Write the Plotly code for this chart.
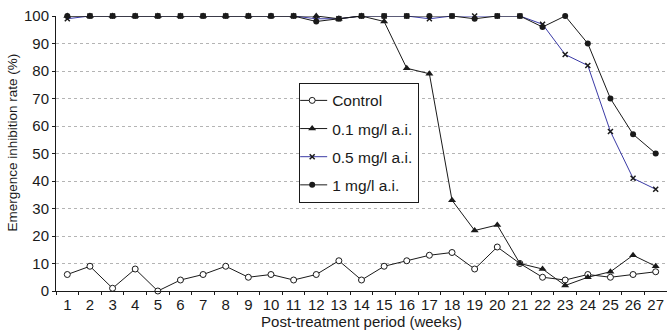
import plotly.graph_objects as go

weeks = [str(i) for i in range(1, 28)]
control = [6, 9, 1, 8, 0, 4, 6, 9, 5, 6, 4, 6, 11, 4, 9, 11, 13, 14, 8, 16, 10, 5, 4, 6, 5, 6, 7]
dose_01 = [100, 100, 100, 100, 100, 100, 100, 100, 100, 100, 100, 100, 99, 100, 98, 81, 79, 33, 22, 24, 10, 8, 2, 5, 7, 13, 9]
dose_05 = [99, 100, 100, 100, 100, 100, 100, 100, 100, 100, 100, 99, 99, 100, 100, 100, 99, 100, 100, 100, 100, 97, 86, 82, 58, 41, 37]
dose_1 = [100, 100, 100, 100, 100, 100, 100, 100, 100, 100, 100, 98, 99, 100, 100, 100, 100, 100, 99, 100, 100, 96, 100, 90, 70, 57, 50]

FONT = "Liberation Sans, Arial, Helvetica, sans-serif"
BLACK = "#1a1a1a"
BLUE = "#3a3aa6"

fig = go.Figure()
fig.add_trace(go.Scatter(
    x=weeks, y=control, name="Control", mode="lines+markers",
    line=dict(color=BLACK, width=1),
    marker=dict(symbol="circle", size=6, color="white", line=dict(color=BLACK, width=1)),
    cliponaxis=False, legendgroup="a", legendrank=1))
fig.add_trace(go.Scatter(
    x=weeks, y=dose_05, name="0.5 mg/l a.i.", mode="lines+markers",
    line=dict(color=BLUE, width=1),
    marker=dict(symbol="x-thin", size=5, color=BLACK, line=dict(color=BLACK, width=1.5)),
    cliponaxis=False, legendgroup="c", legendrank=3))
fig.add_trace(go.Scatter(
    x=weeks, y=dose_01, name="0.1 mg/l a.i.", mode="lines+markers",
    line=dict(color=BLACK, width=1),
    marker=dict(symbol="triangle-up", size=7, color=BLACK),
    cliponaxis=False, legendgroup="b", legendrank=2))
fig.add_trace(go.Scatter(
    x=weeks, y=dose_1, name="1 mg/l a.i.", mode="lines+markers",
    line=dict(color=BLACK, width=1),
    marker=dict(symbol="circle", size=6, color=BLACK),
    cliponaxis=False, legendgroup="d", legendrank=4))

fig.update_layout(
    width=667, height=330,
    margin=dict(l=56, r=0, t=16, b=39),
    paper_bgcolor="white", plot_bgcolor="white",
    font=dict(family=FONT, size=15, color=BLACK),
    legend=dict(
        x=0.398, y=0.757, xanchor="left", yanchor="top",
        bordercolor=BLACK, borderwidth=1, bgcolor="white",
        font=dict(size=15.5, family=FONT, color=BLACK),
        itemwidth=30, tracegroupgap=5, traceorder="grouped", indentation=-8,
    ),
    xaxis=dict(
        type="category", range=[-0.5, len(weeks) - 0.5],
        tickson="boundaries", ticks="outside", ticklen=3,
        tickcolor=BLACK, showline=True, linecolor=BLACK, linewidth=1,
        showgrid=False, tickfont=dict(size=15), tickangle=0, automargin=False,
        title=dict(text="Post-treatment period (weeks)", font=dict(size=15), standoff=2),
    ),
    yaxis=dict(
        range=[0, 100], tickvals=list(range(0, 101, 10)), ticks="outside", ticklen=3,
        tickcolor=BLACK, showline=True, linecolor=BLACK, linewidth=1,
        showgrid=True, gridcolor="#b4b4b4", griddash="dot", gridwidth=1,
        zeroline=False, tickfont=dict(size=15), automargin=False,
    ),
    annotations=[dict(
        text="Emergence inhibition rate (%)", xref="paper", yref="paper",
        x=-0.072, y=0.54, xanchor="center", yanchor="middle", textangle=-90,
        showarrow=False, font=dict(size=13.5, family=FONT, color=BLACK),
    )],
)

fig.write_html("out.html", config={"displayModeBar": False},
               post_script="document.body.style.margin='0';")
